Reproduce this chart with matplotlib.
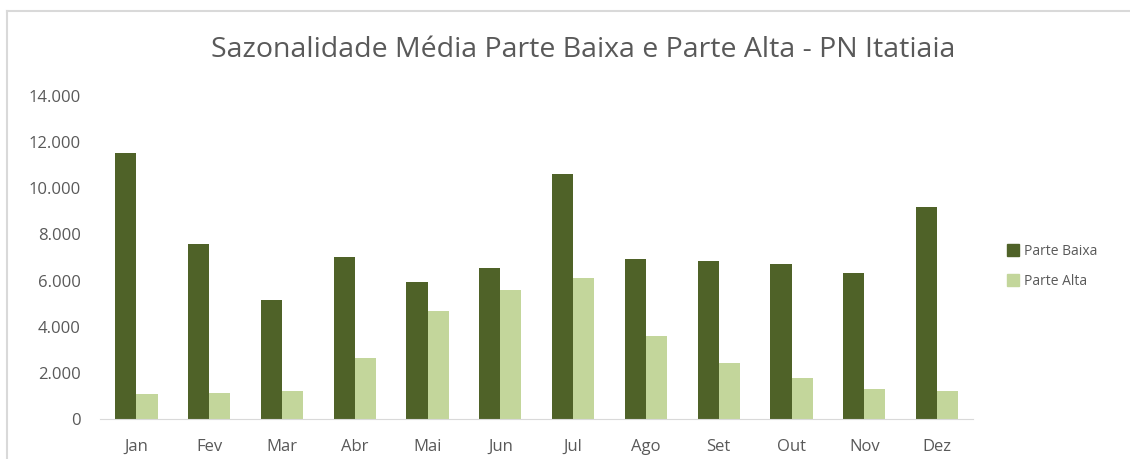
import numpy as np
import matplotlib
matplotlib.use('Agg')
import matplotlib.pyplot as plt
from matplotlib.lines import Line2D
from matplotlib.patches import Patch
from matplotlib.ticker import FuncFormatter

plt.rcParams['font.family'] = ['Open Sans', 'DejaVu Sans']

# data
meses = ['Jan', 'Fev', 'Mar', 'Abr', 'Mai', 'Jun', 'Jul', 'Ago', 'Set', 'Out', 'Nov', 'Dez']
parte_baixa = [11530, 7600, 5140, 7010, 5960, 6550, 10620, 6940, 6850, 6720, 6350, 9190]
parte_alta = [1070, 1150, 1230, 2660, 4690, 5600, 6120, 3620, 2420, 1760, 1300, 1230]
y_ticks = [0, 2000, 4000, 6000, 8000, 10000, 12000, 14000]

cor_baixa = '#4f6228'
cor_alta = '#c3d69b'
cinza = '#595959'

fig = plt.figure(figsize=(11.30, 4.59), dpi=100)
ax = fig.add_axes([0.0885, 0.087, 0.773, 0.704])

x = np.arange(len(meses))
w = 0.29
ax.bar(x - w / 2, parte_baixa, w, color=cor_baixa, label='Parte Baixa')
ax.bar(x + w / 2, parte_alta, w, color=cor_alta, label='Parte Alta')

ax.set_xlim(-0.5, len(meses) - 0.5)
ax.set_ylim(0, 14000)
ax.set_yticks(y_ticks)
ax.yaxis.set_major_formatter(FuncFormatter(lambda v, p: '{:,.0f}'.format(v).replace(',', '.')))
ax.set_xticks(x)
ax.set_xticklabels(meses)

for s in ['top', 'right', 'left']:
    ax.spines[s].set_visible(False)
ax.spines['bottom'].set_color('#d9d9d9')
ax.tick_params(axis='both', length=0, colors=cinza, labelsize=12)
ax.tick_params(axis='y', pad=14)
ax.tick_params(axis='x', pad=14)

fig.text(0.516, 0.89, 'Sazonalidade Média Parte Baixa e Parte Alta - PN Itatiaia',
         ha='center', va='center', fontsize=20.5, color=cinza)

handles = [Patch(color=cor_baixa, label='Parte Baixa'), Patch(color=cor_alta, label='Parte Alta')]
fig.legend(handles=handles, loc='center left', bbox_to_anchor=(0.88, 0.42), frameon=False,
           fontsize=10, labelcolor=cinza, handlelength=0.9, handleheight=0.9,
           handletextpad=0.3, labelspacing=1.1)

# light frame of the chart area
fig.add_artist(Line2D([7 / 1130, 7 / 1130], [0, 1 - 11 / 459], transform=fig.transFigure,
                      color='#d9d9d9', lw=1.5))
fig.add_artist(Line2D([7 / 1130, 1], [1 - 11 / 459, 1 - 11 / 459], transform=fig.transFigure,
                      color='#d9d9d9', lw=1.5))

fig.savefig('out.png', dpi=100)
